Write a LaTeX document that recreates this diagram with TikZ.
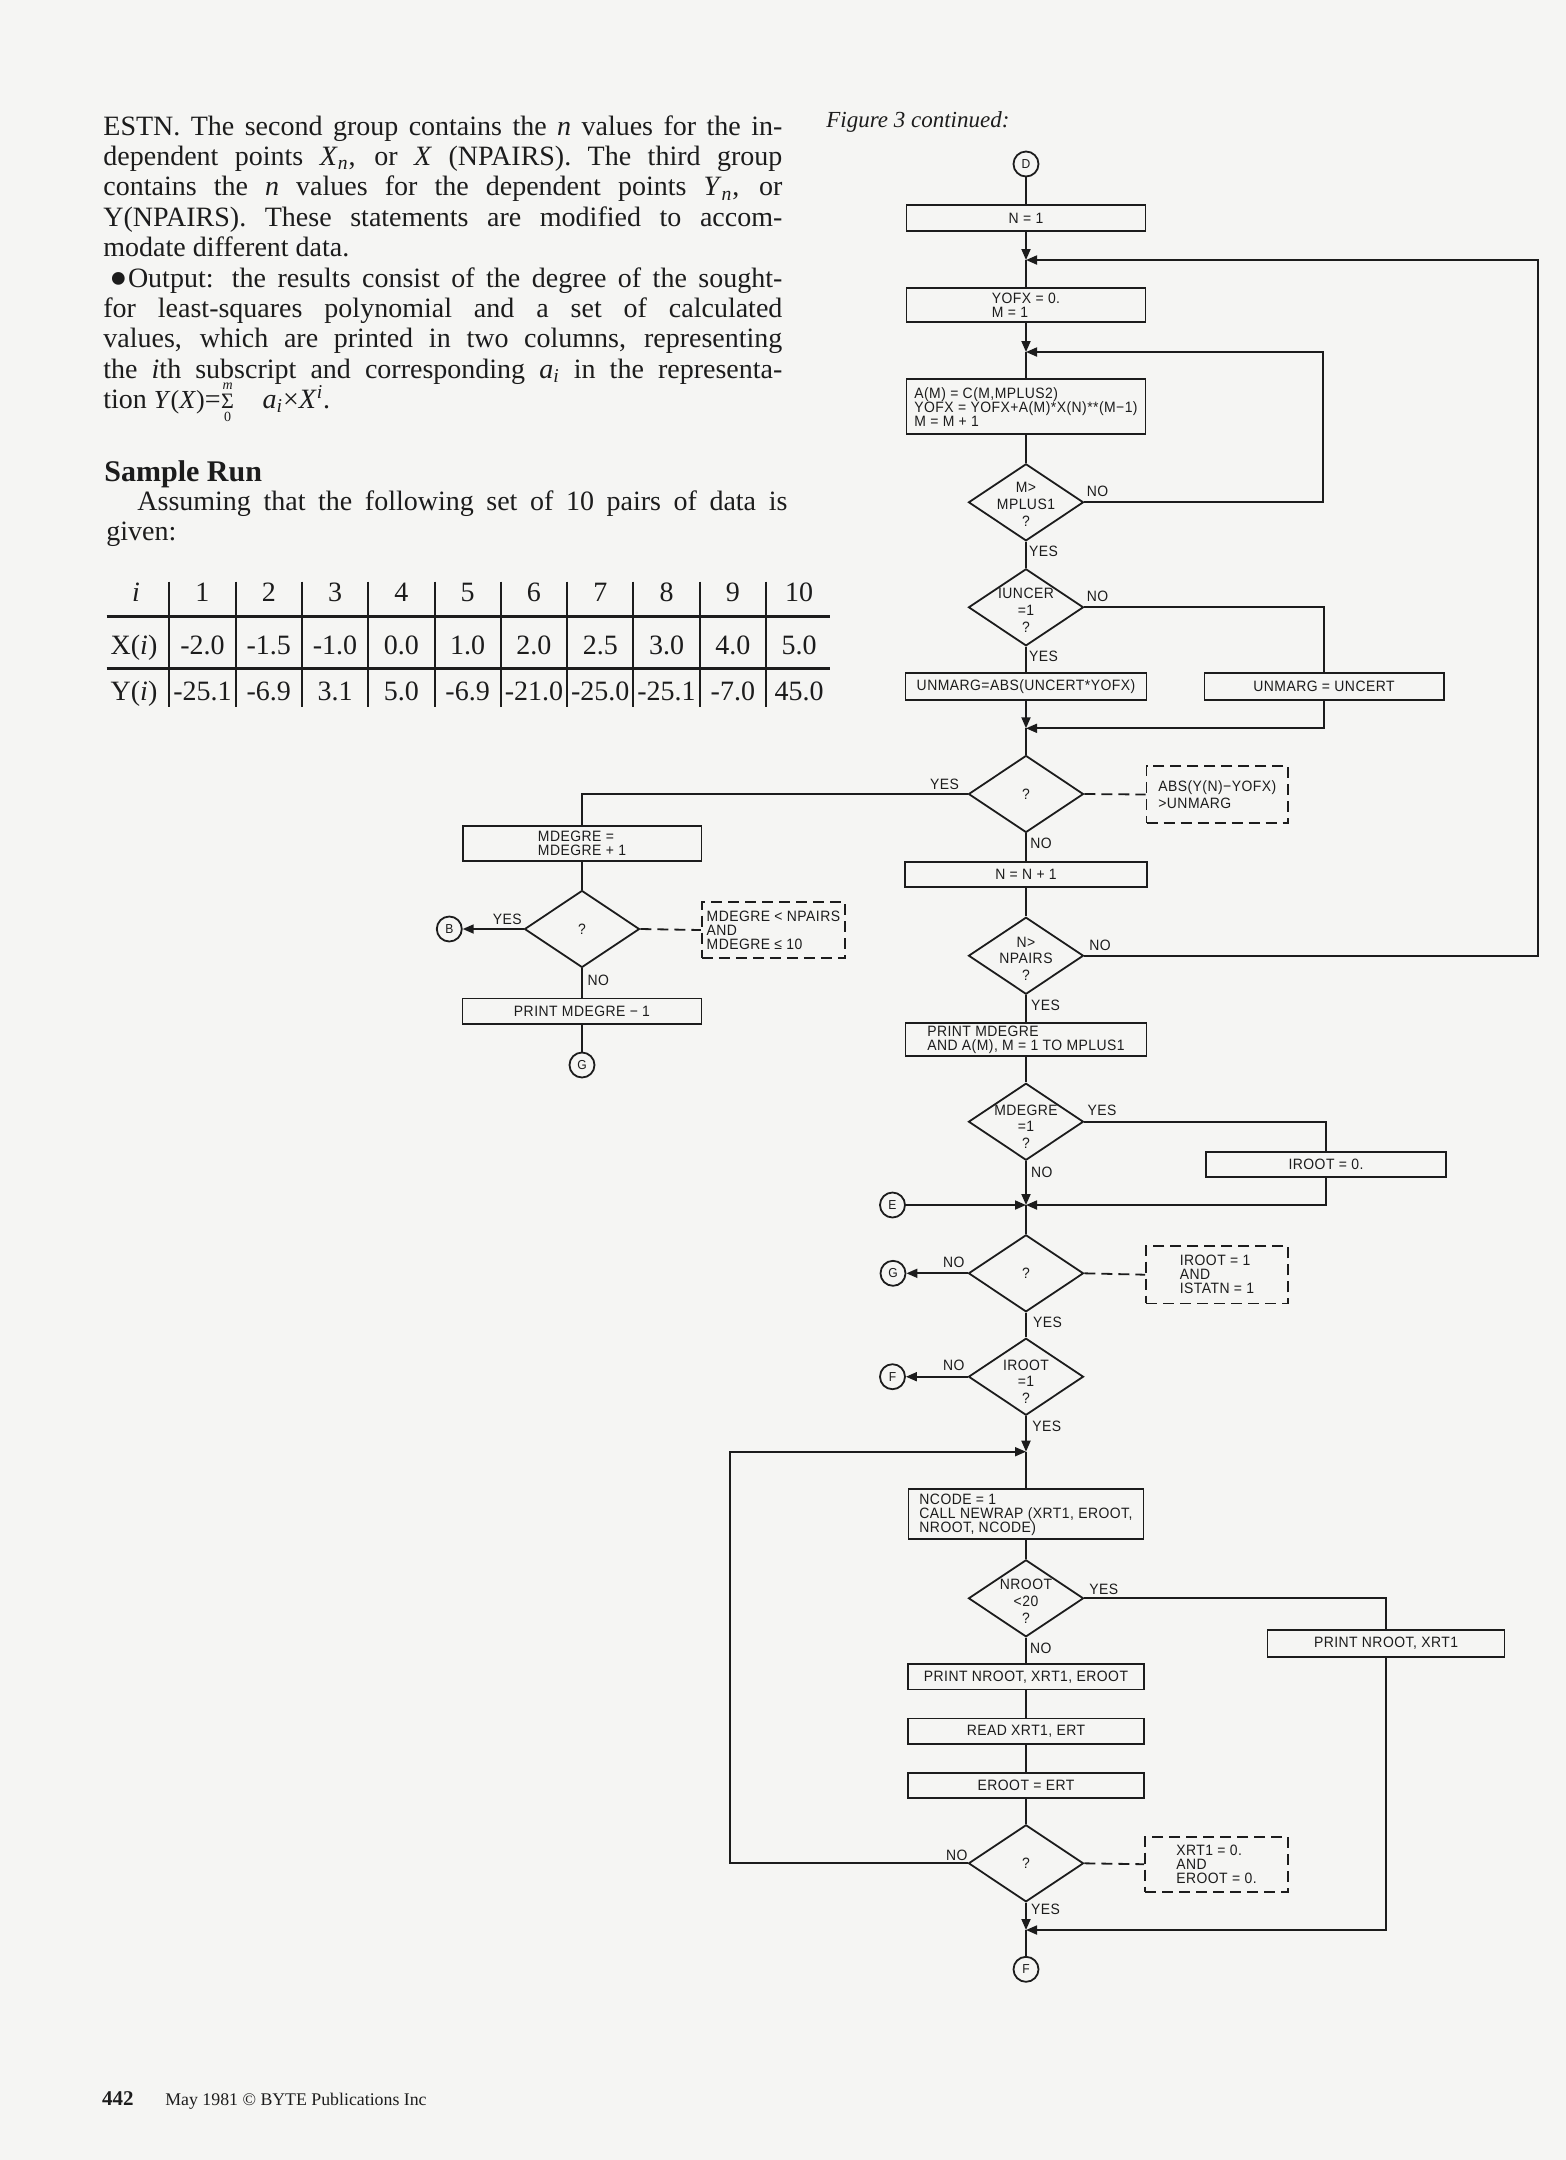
\documentclass[tikz,border=0pt]{standalone}
\usepackage{amsmath}
\usepackage{graphicx}
\usepackage{fontspec}
\setmainfont{Liberation Serif}
\newfontfamily\fcfont[FakeStretch=0.93,LetterSpace=3]{Liberation Sans}
\usetikzlibrary{arrows.meta,shapes.geometric}
\definecolor{paper}{RGB}{245,245,243}
\definecolor{ink}{RGB}{28,28,28}
\newcommand{\smallsum}{\rlap{\makebox[7pt]{\raisebox{9.5pt}{\fontsize{7pt}{7pt}\selectfont\textit{m}}}}\rlap{\makebox[7pt]{\raisebox{-6.5pt}{\fontsize{7pt}{7pt}\selectfont 0}}}\makebox[7pt]{\fontsize{11pt}{11pt}\selectfont Σ}}
\begin{document}
\begin{tikzpicture}[x=0.5pt,y=-0.5pt,
  every node/.style={text=ink},
  fc/.style={font=\fcfont\fontsize{7.5pt}{7pt}\selectfont},
  pbox/.style={draw=ink, line width=0.9pt, rectangle, inner sep=0pt, align=left, fc},
  dec/.style={draw=ink, diamond, line width=0.9pt, inner sep=0pt, minimum width=57.5pt, minimum height=38.5pt},
  dtxt/.style={inner sep=0pt, align=center, font=\fcfont\fontsize{7.5pt}{8.3pt}\selectfont},
  dbox/.style={draw=ink, line width=0.9pt, dash pattern=on 5.5pt off 3pt, rectangle, inner sep=0pt, align=left, fc},
  lab/.style={inner sep=0pt, fc},
  conc/.style={draw=ink, circle, line width=0.9pt, minimum size=12.5pt, inner sep=0pt, font=\fcfont\fontsize{6.5pt}{6.5pt}\selectfont},
  flow/.style={draw=ink, line width=0.9pt},
  arr/.style={flow, -{Triangle[length=5.5pt,width=4.5pt]}},
  dline/.style={flow, dash pattern=on 5.5pt off 3pt},
  body/.style={inner sep=0pt, anchor=base west, font=\fontsize{14pt}{15pt}\selectfont},
  cell/.style={inner sep=0pt, anchor=base, font=\fontsize{14pt}{15pt}\selectfont}
]
\useasboundingbox (0,0) rectangle (1566,2160);
\fill[paper] (0,0) rectangle (1566,2160);

% ---------------- left text ----------------
\node[body] (t1) at (103,135) {\hbox to 339.5pt{ESTN. The second group contains the \textit{n} values for the in-}};
\node[body] (t2) at (103,165.4) {\hbox to 339.5pt{dependent points \textit{X}\textsubscript{\textit{n}}, or \textit{X} (NPAIRS). The third group}};
\node[body] (t3) at (103,195.8) {\hbox to 339.5pt{contains the \textit{n} values for the dependent points \textit{Y}\textsubscript{\textit{n}}, or}};
\node[body] (t4) at (103,226.2) {\hbox to 339.5pt{Y(NPAIRS). These statements are modified to accom-}};
\node[body] (t5) at (103,256.6) {modate different data.};
\node[body] (t6) at (109,287) {\hbox to 336.5pt{\raisebox{-0.33em}{\scalebox{1.9}{\textbullet}}Output: the results consist of the degree of the sought-}};
\node[body] (t7) at (103,317.4) {\hbox to 339.5pt{for least-squares polynomial and a set of calculated}};
\node[body] (t8) at (103,347.8) {\hbox to 339.5pt{values, which are printed in two columns, representing}};
\node[body] (t9) at (103,378.2) {\hbox to 339.5pt{the \textit{i}th subscript and corresponding \textit{a}\textsubscript{\textit{i}} in the representa-}};
\node[body] (t10) at (103,408.6) {tion {\fontsize{13pt}{14pt}\selectfont\textit{Y}(\textit{X})}=\smallsum\quad\textit{a}\textsubscript{\textit{i}}×\textit{X}\textsuperscript{\textit{i}}.};
\node[inner sep=0pt, anchor=base west, font=\bfseries\fontsize{15pt}{16pt}\selectfont] (sr) at (104,481.7) {Sample Run};
\node[body] (as) at (137,510.7) {\hbox to 325pt{Assuming that the following set of 10 pairs of data is}};
\node[body] (gv) at (106,540) {given:};

% ---------------- table ----------------
\draw[ink, line width=1.5pt] (106.5,616.7) -- (830,616.7);
\draw[ink, line width=1.5pt] (106.5,668.3) -- (830,668.3);
\foreach \k in {0,...,9} \draw[ink, line width=1pt] ({169.3+66.3*\k},581.7) -- ({169.3+66.3*\k},706.7);
\node[cell] (hi) at (136,601) {\textit{i}};
\node[cell] (hx) at (134,654) {X(\textit{i})};
\node[cell] (hy) at (134,700) {Y(\textit{i})};
\foreach \v [count=\k from 0] in {1,2,3,4,5,6,7,8,9,10}
  \node[cell] (c\k) at ({202.45+66.3*\k},601) {\v};
\foreach \v [count=\k from 0] in {-2.0,-1.5,-1.0,0.0,1.0,2.0,2.5,3.0,4.0,5.0}
  \node[cell] (x\k) at ({202.45+66.3*\k},654) {\v};
\foreach \v [count=\k from 0] in {-25.1,-6.9,3.1,5.0,-6.9,-21.0,-25.0,-25.1,-7.0,45.0}
  \node[cell] (y\k) at ({202.45+66.3*\k},700) {\v};

% ---------------- caption / footer ----------------
\node[inner sep=0pt, anchor=base west, font=\itshape\fontsize{11.5pt}{12pt}\selectfont] (fig) at (826,127) {Figure 3 continued:};
\node[inner sep=0pt, anchor=base west, font=\bfseries\fontsize{10.5pt}{11pt}\selectfont] (pg) at (101.7,2105) {442};
\node[inner sep=0pt, anchor=base west, font=\fontsize{8.9pt}{10pt}\selectfont] (ft) at (165,2105) {May 1981 \textcopyright{} BYTE Publications Inc};

% ---------------- main flowchart ----------------
\node[conc] (D) at (1026,164) {D};
\node[pbox, minimum width=119.5pt, minimum height=13pt] (n1) at (1026,218) {N = 1};
\coordinate (j1) at (1026,260);
\node[pbox, minimum width=119.5pt, minimum height=17pt] (yofx) at (1026,305.3) {YOFX = 0.\\M = 1};
\coordinate (j2) at (1026,352);
\node[pbox, minimum width=119.5pt, minimum height=27.5pt] (am) at (1026,406.8) {A(M) = C(M,MPLUS2)\\YOFX = YOFX+A(M)*X(N)**(M−1)\\M = M + 1};
\node[dec] (d1) at (1026,502.3) {};
\node[dtxt] (d1t) at ([yshift=-1pt]d1.center) {M>\\MPLUS1\\?};
\node[dec] (d2) at (1026,607.3) {};
\node[dtxt] (d2t) at ([yshift=-1.5pt]d2.center) {IUNCER\\=1\\?};
\node[pbox, minimum width=120.5pt, minimum height=13.7pt] (ua) at (1026,686.3) {UNMARG=ABS(UNCERT*YOFX)};
\node[pbox, minimum width=119.6pt, minimum height=13.7pt] (unc) at (1324,686.3) {UNMARG = UNCERT};
\coordinate (j3) at (1026,728.3);
\node[dec] (d3) at (1026,794) {};
\node[dtxt] (d3t) at (d3.center) {?};
\node[dbox, minimum width=70.8pt, minimum height=28.8pt, font=\fcfont\fontsize{7.5pt}{8.8pt}\selectfont] (dbabs) at (1217.3,794.5) {ABS(Y(N)−YOFX)\\>UNMARG};
\node[pbox, minimum width=120.7pt, minimum height=12.5pt] (nn) at (1026,874.2) {N = N + 1};
\node[dec] (d5) at (1026,955.7) {};
\node[dtxt] (d5t) at ([yshift=-1.5pt]d5.center) {N>\\NPAIRS\\?};
\node[pbox, minimum width=120.5pt, minimum height=16.7pt] (pm) at (1026,1039.4) {PRINT MDEGRE\\AND A(M), M = 1 TO MPLUS1};
\node[dec] (d6) at (1026,1121.7) {};
\node[dtxt] (d6t) at ([yshift=-2.5pt]d6.center) {MDEGRE\\=1\\?};
\node[pbox, minimum width=120.3pt, minimum height=12.5pt] (ir0) at (1326,1164.2) {IROOT = 0.};
\coordinate (j4) at (1026,1205);
\node[conc] (E) at (892.5,1205) {E};
\node[dec] (d7) at (1026,1273.3) {};
\node[dtxt] (d7t) at (d7.center) {?};
\node[conc] (G2) at (893,1273.3) {G};
\node[dbox, minimum width=71pt, minimum height=28.7pt] (dbir) at (1217,1274.7) {IROOT = 1\\AND\\ISTATN = 1};
\node[dec] (d8) at (1026,1376.7) {};
\node[dtxt] (d8t) at ([yshift=-2.5pt]d8.center) {IROOT\\=1\\?};
\node[conc] (F1) at (892.5,1376.7) {F};
\coordinate (j5) at (1026,1451.7);
\node[pbox, minimum width=117.5pt, minimum height=25pt] (nc) at (1026,1514.3) {NCODE = 1\\CALL NEWRAP (XRT1, EROOT,\\NROOT, NCODE)};
\node[dec] (d9) at (1026,1598.3) {};
\node[dtxt] (d9t) at ([yshift=-1.5pt]d9.center) {NROOT\\<20\\?};
\node[pbox, minimum width=118.5pt, minimum height=13.3pt] (pnx) at (1386,1643.3) {PRINT NROOT, XRT1};
\node[pbox, minimum width=118.2pt, minimum height=12.7pt] (pnxe) at (1026,1676.7) {PRINT NROOT, XRT1, EROOT};
\node[pbox, minimum width=118pt, minimum height=12.8pt] (rd) at (1026,1731.2) {READ XRT1, ERT};
\node[pbox, minimum width=118pt, minimum height=12.8pt] (er) at (1026,1785.5) {EROOT = ERT};
\node[dec] (d10) at (1026,1863.3) {};
\node[dtxt] (d10t) at (d10.center) {?};
\node[dbox, minimum width=71.5pt, minimum height=27.5pt] (dbx) at (1216.5,1864.2) {XRT1 = 0.\\AND\\EROOT = 0.};
\coordinate (j6) at (1026,1930);
\node[conc] (F2) at (1026,1969.3) {F};
\coordinate (cR1) at (1538,260);
\coordinate (cR2) at (1323,352);
\coordinate (cL) at (730,1451.7);

% left branch
\node[pbox, minimum width=119.4pt, minimum height=17.5pt] (mdeg) at (582,843.5) {MDEGRE =\\MDEGRE + 1};
\node[dec] (d4) at (582,929) {};
\node[dtxt] (d4t) at (d4.center) {?};
\node[conc] (B) at (449.3,929) {B};
\node[dbox, minimum width=71.6pt, minimum height=28.3pt] (dbl) at (773.4,930) {MDEGRE < NPAIRS\\AND\\MDEGRE ≤ 10};
\node[pbox, minimum width=119.5pt, minimum height=12.8pt] (pm1) at (582,1011.2) {PRINT MDEGRE − 1};
\node[conc] (G1) at (582,1065) {G};

% ---------------- connectors ----------------
\draw[flow] (D) -- (n1);
\draw[arr] (n1) -- (j1);
\draw[flow] (j1) -- (yofx);
\draw[arr] (yofx) -- (j2);
\draw[flow] (j2) -- (am);
\draw[flow] (am) -- (d1);
\draw[arr] (d1.east) -| (cR2) -- (j2);
\draw[flow] (d1) -- (d2);
\draw[flow] (d2) -- (ua);
\draw[flow] (d2.east) -| (unc.north);
\draw[arr] (ua) -- (j3);
\draw[arr] (unc.south) |- (j3);
\draw[flow] (j3) -- (d3);
\draw[dline] (d3.east) -- (dbabs.west);
\draw[flow] (d3.west) -| (mdeg.north);
\draw[flow] (d3) -- (nn);
\draw[flow] (nn) -- (d5);
\draw[arr] (d5.east) -| (cR1) -- (j1);
\draw[flow] (d5) -- (pm);
\draw[flow] (pm) -- (d6);
\draw[flow] (d6.east) -| (ir0.north);
\draw[arr] (d6) -- (j4);
\draw[arr] (ir0.south) |- (j4);
\draw[arr] (E) -- (j4);
\draw[flow] (j4) -- (d7);
\draw[arr] (d7.west) -- (G2);
\draw[dline] (d7.east) -- (dbir.west);
\draw[flow] (d7) -- (d8);
\draw[arr] (d8.west) -- (F1);
\draw[arr] (d8) -- (j5);
\draw[flow] (j5) -- (nc);
\draw[flow] (nc) -- (d9);
\draw[flow] (d9.east) -| (pnx.north);
\draw[flow] (d9) -- (pnxe);
\draw[flow] (pnxe) -- (rd);
\draw[flow] (rd) -- (er);
\draw[flow] (er) -- (d10);
\draw[dline] (d10.east) -- (dbx.west);
\draw[arr] (d10.west) -| (cL) -- (j5);
\draw[arr] (d10) -- (j6);
\draw[arr] (pnx.south) |- (j6);
\draw[flow] (j6) -- (F2);
\draw[flow] (mdeg) -- (d4);
\draw[arr] (d4.west) -- (B);
\draw[dline] (d4.east) -- (dbl.west);
\draw[flow] (d4) -- (pm1);
\draw[flow] (pm1) -- (G1);

% ---------------- labels ----------------
\node[lab] (l1n) at (1097.5,491.7) {NO};
\node[lab] (l1y) at (1043.5,551.7) {YES};
\node[lab] (l2n) at (1097.5,596.7) {NO};
\node[lab] (l2y) at (1043.5,656.7) {YES};
\node[lab] (l3y) at (944.5,784) {YES};
\node[lab] (l3n) at (1041,843.3) {NO};
\node[lab] (l5n) at (1100,945) {NO};
\node[lab] (l5y) at (1045.6,1005) {YES};
\node[lab] (l6y) at (1101.9,1110.7) {YES};
\node[lab] (l6n) at (1041.8,1172.7) {NO};
\node[lab] (l7n) at (953.8,1262.7) {NO};
\node[lab] (l7y) at (1047.5,1322.7) {YES};
\node[lab] (l8n) at (953.8,1365.7) {NO};
\node[lab] (l8y) at (1046.8,1426.7) {YES};
\node[lab] (l9y) at (1103.8,1589.3) {YES};
\node[lab] (l9n) at (1040.7,1648.3) {NO};
\node[lab] (l10n) at (956.9,1855) {NO};
\node[lab] (l10y) at (1045.6,1909.3) {YES};
\node[lab] (l4y) at (507.3,919.3) {YES};
\node[lab] (l4n) at (598.3,980) {NO};
\end{tikzpicture}
\end{document}
